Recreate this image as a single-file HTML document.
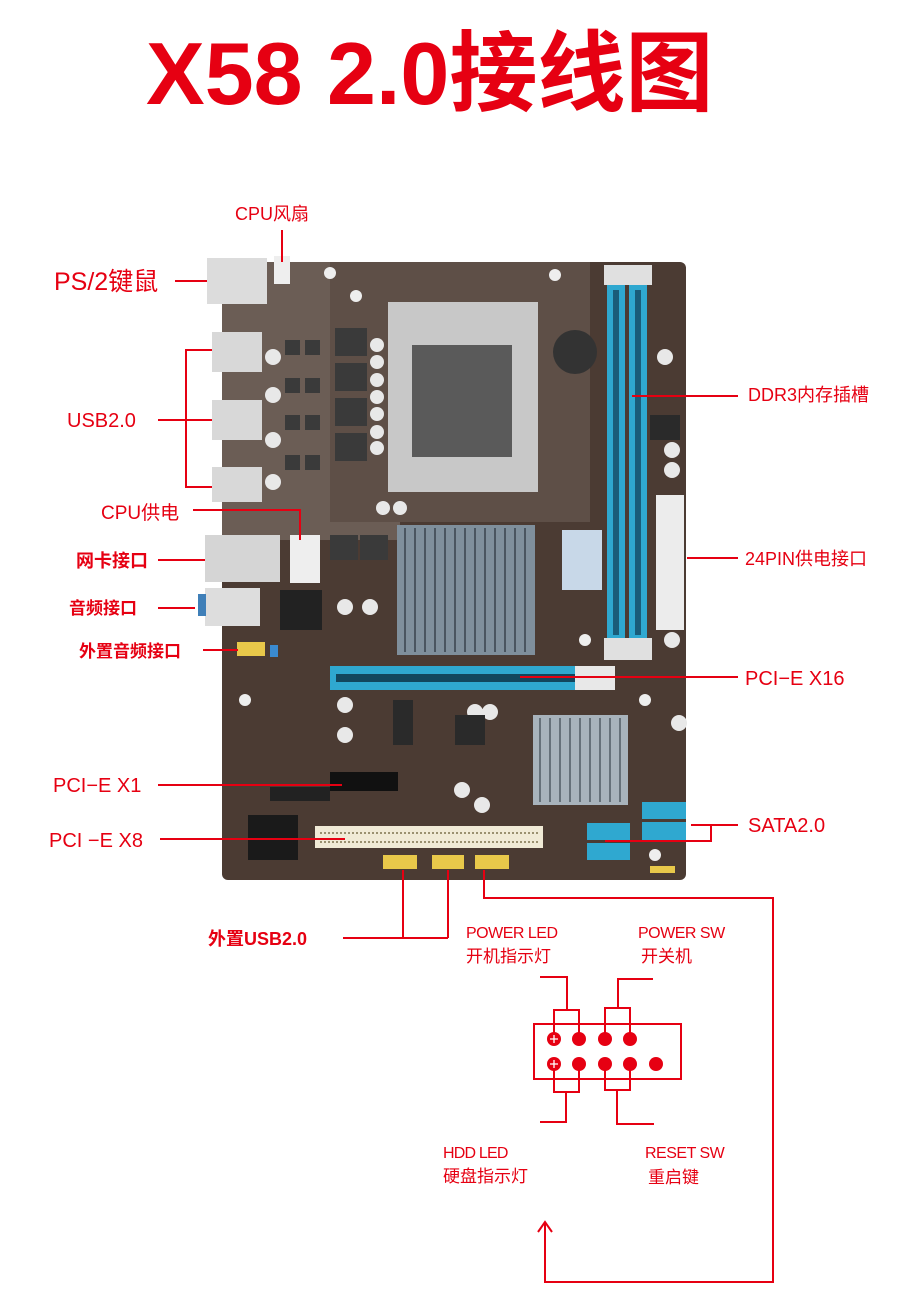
<!DOCTYPE html>
<html><head><meta charset="utf-8"><style>
html,body{margin:0;padding:0;background:#fff;}
svg{display:block}
text{font-family:"Liberation Sans","Noto Sans CJK SC",sans-serif;fill:#e60012}
</style></head><body>
<svg width="900" height="1300" viewBox="0 0 900 1300" xmlns="http://www.w3.org/2000/svg">
<text x="146" y="104" font-size="88" font-weight="bold">X58 2.0接线图</text>

<!-- board -->
<rect x="222" y="262" width="464" height="618" rx="6" fill="#4b3b33"/>
<path d="M222 262 H400 V540 H222Z" fill="#6b5d55"/>
<rect x="330" y="262" width="260" height="260" fill="#5e4f47"/>
<!-- PS2 -->
<rect x="207" y="258" width="60" height="46" fill="#dcdcdc"/>
<rect x="274" y="256" width="16" height="28" fill="#eee"/>
<!-- USB -->
<rect x="212" y="332" width="50" height="40" fill="#d8d8d8"/>
<rect x="212" y="400" width="50" height="40" fill="#d8d8d8"/>
<rect x="212" y="467" width="50" height="35" fill="#d8d8d8"/>
<!-- LAN & audio -->
<rect x="205" y="535" width="75" height="47" fill="#d5d5d5"/>
<rect x="205" y="588" width="55" height="38" fill="#ddd"/>
<rect x="198" y="594" width="8" height="22" fill="#3f7fb8"/>
<rect x="280" y="590" width="42" height="40" fill="#222"/>
<rect x="290" y="535" width="30" height="48" fill="#eee"/>
<!-- VRM chokes -->
<g fill="#3a3a3a">
<rect x="335" y="328" width="32" height="28"/><rect x="335" y="363" width="32" height="28"/>
<rect x="335" y="398" width="32" height="28"/><rect x="335" y="433" width="32" height="28"/>
<rect x="330" y="535" width="28" height="25"/><rect x="360" y="535" width="28" height="25"/>
<rect x="285" y="340" width="15" height="15"/><rect x="305" y="340" width="15" height="15"/>
<rect x="285" y="378" width="15" height="15"/><rect x="305" y="378" width="15" height="15"/>
<rect x="285" y="415" width="15" height="15"/><rect x="305" y="415" width="15" height="15"/>
<rect x="285" y="455" width="15" height="15"/><rect x="305" y="455" width="15" height="15"/>
</g>
<g fill="#e8e8e8">
<circle cx="377" cy="345" r="7"/><circle cx="377" cy="362" r="7"/><circle cx="377" cy="380" r="7"/>
<circle cx="377" cy="397" r="7"/><circle cx="377" cy="414" r="7"/><circle cx="377" cy="432" r="7"/><circle cx="377" cy="448" r="7"/>
<circle cx="273" cy="357" r="8"/><circle cx="273" cy="395" r="8"/><circle cx="273" cy="440" r="8"/><circle cx="273" cy="482" r="8"/>
<circle cx="345" cy="607" r="8"/><circle cx="370" cy="607" r="8"/><circle cx="383" cy="508" r="7"/><circle cx="400" cy="508" r="7"/>
<circle cx="665" cy="357" r="8"/><circle cx="672" cy="450" r="8"/><circle cx="672" cy="470" r="8"/><circle cx="672" cy="640" r="8"/>
<circle cx="475" cy="712" r="8"/><circle cx="490" cy="712" r="8"/><circle cx="462" cy="790" r="8"/><circle cx="482" cy="805" r="8"/>
<circle cx="345" cy="705" r="8"/><circle cx="345" cy="735" r="8"/><circle cx="679" cy="723" r="8"/>
</g>
<!-- CPU socket -->
<rect x="388" y="302" width="150" height="190" fill="#c8c8c8"/>
<rect x="412" y="345" width="100" height="112" fill="#5a5a5a"/>
<circle cx="575" cy="352" r="22" fill="#333"/>
<!-- DDR -->
<rect x="604" y="265" width="48" height="20" fill="#e0e0e0"/>
<rect x="607" y="285" width="18" height="355" fill="#2fa8d0"/>
<rect x="629" y="285" width="18" height="355" fill="#2fa8d0"/>
<rect x="613" y="290" width="6" height="345" fill="#1a5d7a"/>
<rect x="635" y="290" width="6" height="345" fill="#1a5d7a"/>
<rect x="604" y="638" width="48" height="22" fill="#e0e0e0"/>
<rect x="656" y="495" width="28" height="135" fill="#ececec"/>
<rect x="650" y="415" width="30" height="25" fill="#2a2a2a"/>
<!-- NB heatsink -->
<rect x="397" y="525" width="138" height="130" fill="#7f8f9c"/>
<g stroke="#4a5560" stroke-width="2">
<line x1="405" y1="528" x2="405" y2="652"/><line x1="415" y1="528" x2="415" y2="652"/><line x1="425" y1="528" x2="425" y2="652"/>
<line x1="435" y1="528" x2="435" y2="652"/><line x1="445" y1="528" x2="445" y2="652"/><line x1="455" y1="528" x2="455" y2="652"/>
<line x1="465" y1="528" x2="465" y2="652"/><line x1="475" y1="528" x2="475" y2="652"/><line x1="485" y1="528" x2="485" y2="652"/>
<line x1="495" y1="528" x2="495" y2="652"/><line x1="505" y1="528" x2="505" y2="652"/><line x1="515" y1="528" x2="515" y2="652"/><line x1="525" y1="528" x2="525" y2="652"/>
</g>
<rect x="562" y="530" width="40" height="60" fill="#c8d8e8"/>
<!-- PCIe x16 -->
<rect x="330" y="666" width="285" height="24" fill="#2fa8d0"/>
<rect x="336" y="674" width="240" height="8" fill="#12475e"/>
<rect x="575" y="666" width="40" height="24" fill="#e8e8e8"/>
<!-- SB heatsink -->
<rect x="533" y="715" width="95" height="90" fill="#a8b3bc"/>
<g stroke="#66717a" stroke-width="2">
<line x1="540" y1="718" x2="540" y2="802"/><line x1="550" y1="718" x2="550" y2="802"/><line x1="560" y1="718" x2="560" y2="802"/>
<line x1="570" y1="718" x2="570" y2="802"/><line x1="580" y1="718" x2="580" y2="802"/><line x1="590" y1="718" x2="590" y2="802"/>
<line x1="600" y1="718" x2="600" y2="802"/><line x1="610" y1="718" x2="610" y2="802"/><line x1="620" y1="718" x2="620" y2="802"/>
</g>
<rect x="393" y="700" width="20" height="45" fill="#2a2a2a"/>
<rect x="455" y="715" width="30" height="30" fill="#2a2a2a"/>
<!-- PCIe x1 -->
<rect x="330" y="772" width="68" height="19" fill="#111"/>
<rect x="270" y="787" width="60" height="14" fill="#222"/>
<rect x="248" y="815" width="50" height="45" fill="#1a1a1a"/>
<!-- PCI -->
<rect x="315" y="826" width="228" height="22" fill="#f0ead6"/>
<line x1="320" y1="833" x2="538" y2="833" stroke="#9a9070" stroke-width="2" stroke-dasharray="2 2"/>
<line x1="320" y1="842" x2="538" y2="842" stroke="#9a9070" stroke-width="2" stroke-dasharray="2 2"/>
<!-- SATA -->
<g fill="#2fa8d0">
<rect x="642" y="802" width="44" height="17"/><rect x="642" y="822" width="44" height="18"/>
<rect x="587" y="823" width="43" height="17"/><rect x="587" y="843" width="43" height="17"/>
</g>
<!-- yellow headers -->
<g fill="#e8c84a">
<rect x="383" y="855" width="34" height="14"/><rect x="432" y="855" width="32" height="14"/><rect x="475" y="855" width="34" height="14"/>
<rect x="237" y="642" width="28" height="14"/><rect x="650" y="866" width="25" height="7"/>
</g>
<rect x="270" y="645" width="8" height="12" fill="#3a8ad0"/>
<g fill="#eee"><circle cx="330" cy="273" r="6"/><circle cx="356" cy="296" r="6"/><circle cx="555" cy="275" r="6"/><circle cx="645" cy="700" r="6"/><circle cx="655" cy="855" r="6"/><circle cx="245" cy="700" r="6"/><circle cx="585" cy="640" r="6"/></g>

<!-- labels & lines -->
<g stroke="#e60012" stroke-width="2" fill="none">
<path d="M282 230 V262"/>
<path d="M175 281 H207"/>
<path d="M212 350 H186 V487 H212 M158 420 H212"/>
<path d="M193 510 H300 V540"/>
<path d="M158 560 H205"/>
<path d="M158 608 H195"/>
<path d="M203 650 H238"/>
<path d="M632 396 H738"/>
<path d="M687 558 H738"/>
<path d="M520 677 H738"/>
<path d="M158 785 H342"/>
<path d="M160 839 H345"/>
<path d="M738 825 H711 V841 H605 M711 825 H691"/>
<path d="M343 938 H448 M403 870 V938 M448 870 V938"/>
<path d="M484 870 V898 H773 V1282 H545 V1222 M538 1232 L545 1222 L552 1232"/>
<rect x="534" y="1024" width="147" height="55"/>
<path d="M554 1038 V1010 H579 V1038 M567 1010 V977 H540"/>
<path d="M605 1038 V1008 H630 V1038 M618 1008 V979 H653"/>
<path d="M554 1063 V1092 H579 V1063 M566 1092 V1122 H540"/>
<path d="M605 1063 V1090 H630 V1063 M617 1090 V1124 H654"/>
</g>
<g fill="#e60012">
<circle cx="554" cy="1039" r="7"/><circle cx="579" cy="1039" r="7"/><circle cx="605" cy="1039" r="7"/><circle cx="630" cy="1039" r="7"/>
<circle cx="554" cy="1064" r="7"/><circle cx="579" cy="1064" r="7"/><circle cx="605" cy="1064" r="7"/><circle cx="630" cy="1064" r="7"/><circle cx="656" cy="1064" r="7"/>
</g>
<g stroke="#fff" stroke-width="1.3"><path d="M550 1039 H558 M554 1035 V1043 M550 1064 H558 M554 1060 V1068"/></g>

<text x="235" y="220" font-size="18">CPU风扇</text>
<text x="54" y="290" font-size="25">PS/2键鼠</text>
<text x="67" y="427" font-size="20">USB2.0</text>
<text x="101" y="519" font-size="19">CPU供电</text>
<text x="76" y="567" font-size="18" font-weight="bold">网卡接口</text>
<text x="69" y="614" font-size="17" font-weight="bold">音频接口</text>
<text x="79" y="657" font-size="17" font-weight="bold">外置音频接口</text>
<text x="748" y="401" font-size="18">DDR3内存插槽</text>
<text x="745" y="565" font-size="18">24PIN供电接口</text>
<text x="745" y="685" font-size="20">PCI−E X16</text>
<text x="53" y="792" font-size="20">PCI−E X1</text>
<text x="49" y="847" font-size="20">PCI −E X8</text>
<text x="748" y="832" font-size="20">SATA2.0</text>
<text x="208" y="945" font-size="18" font-weight="bold">外置USB2.0</text>
<text x="466" y="938" font-size="16" letter-spacing="-0.5">POWER  LED</text>
<text x="466" y="962" font-size="17">开机指示灯</text>
<text x="638" y="938" font-size="16" letter-spacing="-0.5">POWER  SW</text>
<text x="641" y="962" font-size="17">开关机</text>
<text x="443" y="1158" font-size="16" letter-spacing="-0.8">HDD LED</text>
<text x="443" y="1182" font-size="17">硬盘指示灯</text>
<text x="645" y="1158" font-size="16" letter-spacing="-0.5">RESET  SW</text>
<text x="648" y="1183" font-size="17">重启键</text>
</svg>
</body></html>
